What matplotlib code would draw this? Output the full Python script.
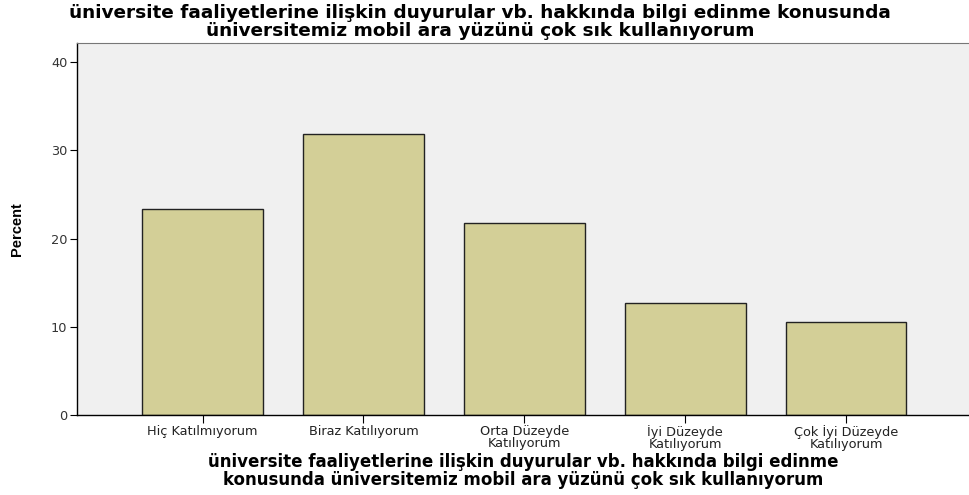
import matplotlib
matplotlib.use("Agg")
import matplotlib.pyplot as plt
import numpy as np

categories = ["Hiç Katılmıyorum", "Biraz Katılıyorum", "Orta Düzeyde\nKatılıyorum",
              "İyi Düzeyde\nKatılıyorum", "Çok İyi Düzeyde\nKatılıyorum"]
percent = [23.3, 31.8, 21.8, 12.7, 10.5]
yticks = [0, 10, 20, 30, 40]

title = ("üniversite faaliyetlerine ilişkin duyurular vb. hakkında bilgi edinme konusunda\n"
         "üniversitemiz mobil ara yüzünü çok sık kullanıyorum")
xlabel = ("üniversite faaliyetlerine ilişkin duyurular vb. hakkında bilgi edinme\n"
          "konusunda üniversitemiz mobil ara yüzünü çok sık kullanıyorum")

fig = plt.figure(figsize=(9.7, 4.95), dpi=100)
ax = fig.add_axes([0.0794, 0.1616, 0.9206, 0.7514])
ax.set_facecolor("#f0f0f0")

x = np.arange(len(categories))
ax.bar(x, percent, width=0.75, color="#d3cf97", edgecolor="#222222", linewidth=1.0)

ax.set_xlim(-0.78, 4.77)
ax.set_ylim(0, 42.15)
ax.set_yticks(yticks)
ax.set_xticks(x)
ax.set_xticklabels(categories, fontsize=9.3, family="DejaVu Sans", color="#222222",
                   linespacing=0.9)
for t in ax.get_yticklabels():
    t.set_family("DejaVu Sans")
ax.tick_params(axis="y", labelsize=9.3, labelcolor="#333333", length=5, width=0.8, pad=2)
ax.tick_params(axis="x", length=6, width=0.8, pad=1)

ax.spines["right"].set_visible(False)
ax.spines["top"].set_color("#777777")
ax.spines["left"].set_linewidth(1.0)
ax.spines["bottom"].set_linewidth(1.0)

ax.set_ylabel("Percent", fontsize=10.5, fontweight="bold",
              family=["Liberation Sans Narrow", "Liberation Sans"], labelpad=19)
ax.set_xlabel(xlabel, fontsize=12, fontweight="bold", family="DejaVu Sans",
              linespacing=1.0, labelpad=2)

fig.text(0.495, 0.992, title, ha="center", va="top", fontsize=13.3, fontweight="bold",
         family="DejaVu Sans", linespacing=1.0)

fig.savefig("out.png", dpi=100)
